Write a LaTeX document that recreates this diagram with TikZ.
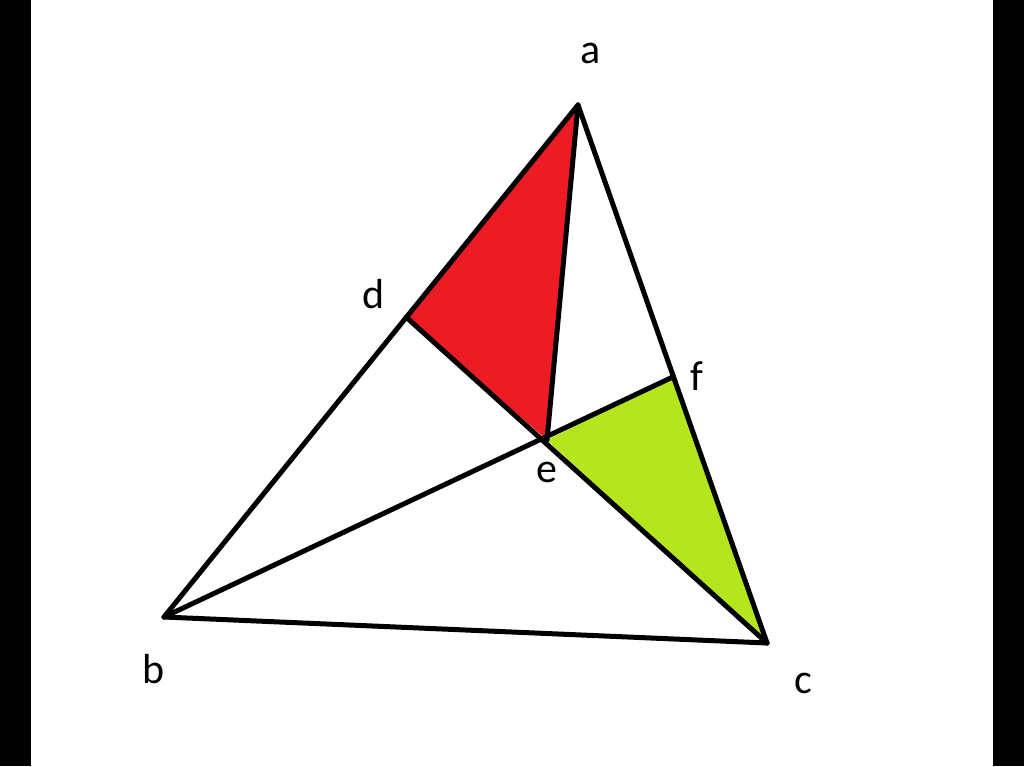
\documentclass[tikz,border=0pt]{standalone}
\usepackage{fontspec}
\usetikzlibrary{calc}
\setmainfont{Carlito}
\definecolor{paintred}{HTML}{ED1C24}
\definecolor{paintgreen}{HTML}{B5E61D}
\begin{document}
\begin{tikzpicture}[x=1pt,y=-1pt,
  edge/.style={line width=5pt,line cap=round,line join=round,black},
  lbl/.style={anchor=base,inner sep=0pt,font=\fontsize{42}{50}\selectfont}]
\useasboundingbox (0,0) rectangle (1024,766);
\fill[black] (0,0) rectangle (31,766);
\fill[black] (993,0) rectangle (1024,766);
\fill[white] (31,0) rectangle (993,766);
\coordinate (a) at (578,105);
\coordinate (b) at (164,617);
\coordinate (c) at (767,643);
\coordinate (d) at (406,317);
\coordinate (e) at (547,440);
\coordinate (f) at ($(a)!0.505!(c)$);
\fill[paintred] (a) -- (d) -- (e) -- cycle;
\fill[paintgreen] (e) -- (f) -- (c) -- cycle;
\draw[edge] (a) -- (b);
\draw[edge] (a) -- (c);
\draw[edge] (b) -- (c);
\draw[edge] (d) -- (c);
\draw[edge] (b) -- (f);
\draw[edge] (a) -- (e);
\node[lbl] (la) at (591,63) {a};
\node[lbl] (lb) at (154,683) {b};
\node[lbl] (lc) at (803,693) {c};
\node[lbl] (ld) at (374,308) {d};
\node[lbl] (le) at (547,482) {e};
\node[lbl] (lf) at (697,390) {f};
\end{tikzpicture}
\end{document}
